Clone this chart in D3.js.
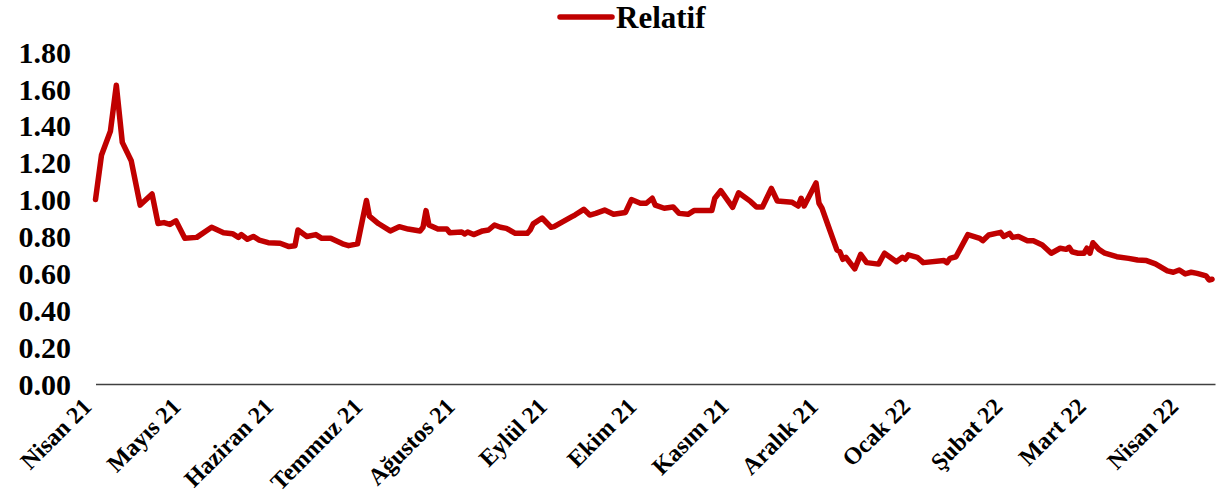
<!DOCTYPE html>
<html>
<head>
<meta charset="utf-8">
<script src="https://cdn.jsdelivr.net/npm/d3@7"></script>
<style>
  html, body { margin: 0; padding: 0; background: #fff; }
  svg { display: block; }
  text { font-family: "Liberation Serif", "Times New Roman", serif; font-weight: bold; fill: #000; }
</style>
</head>
<body>
<svg id="chart" width="1225" height="503"></svg>
<script>
// ---- data ----
const startDate = "2021-04-01";
const endDate = "2022-04-12";
// days since 1 April 2021
const dayIndex = [0,2,5,7,9,12,15,19,21,23,25,27,30,34,39,43,46,48,49,51,53,55,58,62,65,67,68,71,74,76,79,81,83,85,88,91,92,95,99,102,105,109,110,111,112,115,118,119,123,124,125,127,130,132,134,136,138,141,145,146,147,150,153,154,157,160,161,164,166,168,171,174,178,180,183,185,187,188,191,194,196,199,201,204,207,208,210,214,216,220,222,224,227,229,234,236,237,238,242,243,244,246,249,250,251,252,255,257,259,263,265,269,271,272,273,276,278,285,286,287,289,293,297,298,300,304,305,307,308,310,313,315,318,321,324,326,327,328,330,332,333,334,335,337,339,343,347,350,353,356,360,362,364,366,368,370,373,374,375];
const relatif = [1.00,1.24,1.37,1.62,1.31,1.21,0.97,1.03,0.87,0.875,0.865,0.885,0.79,0.795,0.85,0.82,0.815,0.795,0.81,0.785,0.80,0.78,0.766,0.763,0.745,0.75,0.835,0.80,0.81,0.79,0.79,0.775,0.76,0.75,0.76,0.995,0.91,0.87,0.83,0.853,0.84,0.83,0.85,0.94,0.862,0.84,0.84,0.82,0.824,0.813,0.824,0.81,0.83,0.835,0.862,0.85,0.844,0.817,0.817,0.835,0.868,0.90,0.85,0.853,0.88,0.907,0.916,0.947,0.916,0.925,0.943,0.92,0.93,1.00,0.98,0.98,1.007,0.97,0.953,0.96,0.925,0.92,0.94,0.94,0.94,1.007,1.048,0.958,1.037,0.99,0.96,0.96,1.06,0.992,0.985,0.965,1.007,0.965,1.09,0.98,0.953,0.862,0.727,0.717,0.676,0.687,0.624,0.703,0.658,0.65,0.709,0.663,0.687,0.676,0.70,0.687,0.658,0.669,0.658,0.681,0.69,0.81,0.79,0.777,0.808,0.822,0.80,0.817,0.795,0.80,0.777,0.777,0.754,0.709,0.736,0.73,0.741,0.717,0.709,0.709,0.736,0.709,0.766,0.73,0.709,0.69,0.681,0.672,0.669,0.651,0.613,0.606,0.618,0.597,0.606,0.60,0.586,0.564,0.568];
const monthLabels = ["Nisan 21","Mayıs 21","Haziran 21","Temmuz 21","Ağustos 21","Eylül 21","Ekim 21","Kasım 21","Aralık 21","Ocak 22","Şubat 22","Mart 22","Nisan 22"];
const yTickValues = [0, 0.2, 0.4, 0.6, 0.8, 1.0, 1.2, 1.4, 1.6, 1.8];
const seriesName = "Relatif";

// ---- chart ----
const svg = d3.select("#chart");
const parse = d3.utcParse("%Y-%m-%d");
const t0 = parse(startDate), t1 = parse(endDate);
const points = dayIndex.map((d, i) => ({ date: d3.utcDay.offset(t0, d), value: relatif[i] }));
const monthDates = monthLabels.map((_, i) => d3.utcMonth.offset(t0, i));

const x = d3.scaleUtc().domain([t0, t1]).range([95.5, 1215]);
const y = d3.scaleLinear().domain([0, 1.8]).range([384, 52]);

// y axis labels
const yAxis = d3.axisLeft(y).tickValues(yTickValues).tickSize(0).tickPadding(0).tickFormat(d3.format(".2f"));
const gy = svg.append("g").attr("transform", "translate(71,0)").call(yAxis);
gy.select(".domain").remove();
gy.selectAll("text").style("font-size", "30px").attr("dy", "0.34em")
  .style("font-family", '"Liberation Serif", serif').style("font-weight", "bold");

// x axis
const xAxis = d3.axisBottom(x).tickValues(monthDates).tickSize(0).tickSizeOuter(0)
  .tickFormat((d, i) => monthLabels[i]);
const gx = svg.append("g").attr("transform", "translate(0,384)").call(xAxis);
gx.select(".domain").attr("stroke", "#404040").attr("stroke-width", 1.5);
gx.selectAll(".tick text")
  .style("font-size", "24px")
  .style("font-family", '"Liberation Serif", serif').style("font-weight", "bold")
  .attr("text-anchor", "end")
  .attr("y", 0).attr("dy", "0")
  .attr("transform", "translate(-3,24) rotate(-45)");

// line
const line = d3.line().x(d => x(d.date)).y(d => y(d.value));
svg.append("path").datum(points)
  .attr("fill", "none").attr("stroke", "#C00000").attr("stroke-width", 5.5)
  .attr("stroke-linejoin", "round").attr("stroke-linecap", "round")
  .attr("d", line);

// legend
const lg = svg.append("g");
lg.append("line").attr("x1", 560).attr("x2", 612).attr("y1", 17).attr("y2", 17)
  .attr("stroke", "#C00000").attr("stroke-width", 5.5).attr("stroke-linecap", "round");
lg.append("text").attr("x", 616).attr("y", 28).text(seriesName).style("font-size", "31px");
</script>
</body>
</html>
